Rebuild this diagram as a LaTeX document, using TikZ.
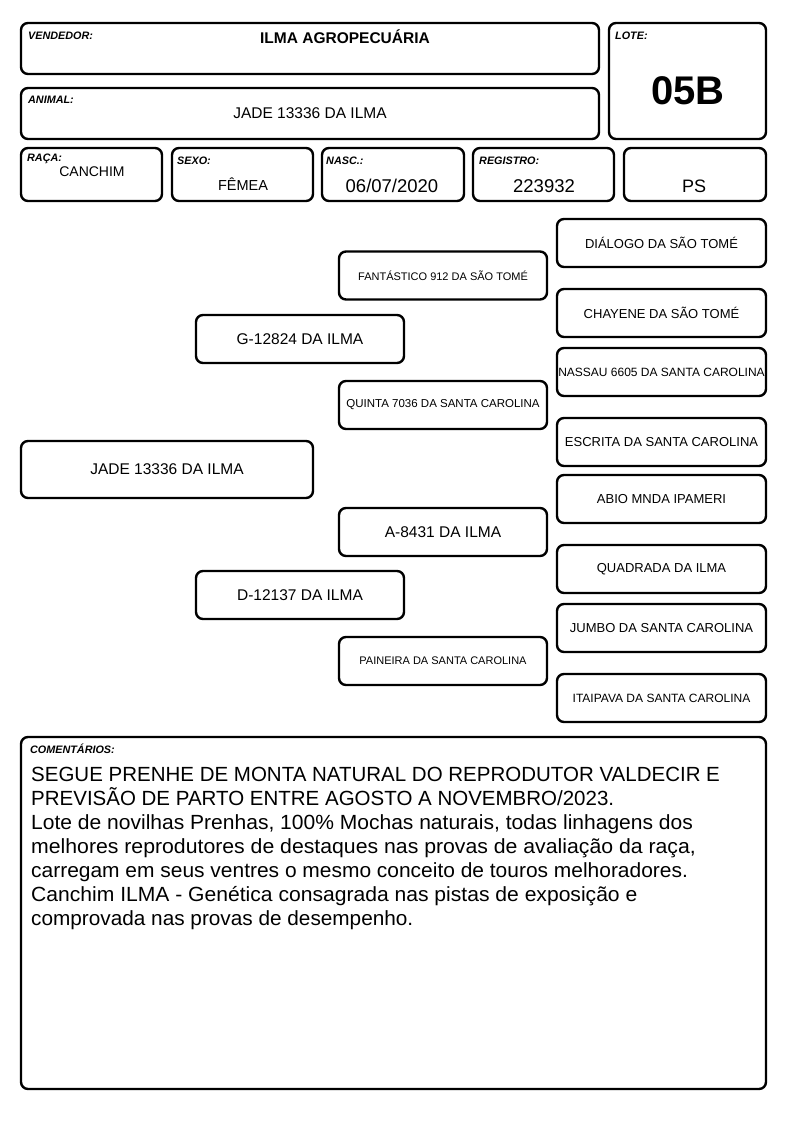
\documentclass[tikz,border=0pt]{standalone}
\usepackage{graphicx}
\usepackage{fontspec}
\setmainfont{Liberation Sans}
\begin{document}
\begin{tikzpicture}[x=1pt,y=-1pt,
  box/.style={draw, line width=2.4pt, rounded corners=7pt, inner sep=0pt},
  lab/.style={font=\fontsize{10.8}{12}\selectfont\bfseries\itshape, anchor=west, inner sep=0pt},
  txt/.style={inner sep=0pt},
  big/.style={font=\fontsize{15.5}{18}\selectfont},
  mid/.style={font=\fontsize{13}{15}\selectfont},
  sml/.style={font=\fontsize{11.5}{13}\selectfont},
  ped/.style={box, minimum width=208, minimum height=48},
  rt/.style={box, minimum width=209, minimum height=48}]
\useasboundingbox (0,0) rectangle (794,1123);
% header
\node[box, minimum width=578, minimum height=51] (vend) at (310,48.5) {};
\node[lab] (vendl) at (28,35.5) {VENDEDOR:};
\node[txt, font=\fontsize{15.5}{18}\selectfont\bfseries] (vendt) at (345,37) {ILMA AGROPECUÁRIA};
\node[box, minimum width=578, minimum height=51] (anim) at (310,113.5) {};
\node[lab] (animl) at (28,99.5) {ANIMAL:};
\node[txt, big] (animt) at (310,113) {JADE 13336 DA ILMA};
\node[box, minimum width=157, minimum height=116] (lote) at (687.5,81) {};
\node[lab] (lotel) at (615,35.5) {LOTE:};
\node[txt, font=\fontsize{40}{44}\selectfont\bfseries] (lotet) at (688,91) {05B};
% row
\node[box, minimum width=141, minimum height=53] (raca) at (91.5,174.5) {};
\node[lab] (racal) at (27,158.5) {RAÇA:};
\node[txt, font=\fontsize{14}{16}\selectfont] (racat) at (92,172) {CANCHIM};
\node[box, minimum width=141, minimum height=53] (sexo) at (242.5,174.5) {};
\node[lab] (sexol) at (177,160.5) {SEXO:};
\node[txt, font=\fontsize{14.5}{16}\selectfont] (sexot) at (243,184) {FÊMEA};
\node[box, minimum width=142, minimum height=53] (nasc) at (393,174.5) {};
\node[lab] (nascl) at (326,160.5) {NASC.:};
\node[txt, font=\fontsize{18.5}{20}\selectfont] (nasct) at (392,186) {06/07/2020};
\node[box, minimum width=141, minimum height=53] (reg) at (543.5,174.5) {};
\node[lab] (regl) at (479,160.5) {REGISTRO:};
\node[txt, font=\fontsize{18.5}{20}\selectfont] (regt) at (544,186) {223932};
\node[box, minimum width=142, minimum height=53] (ps) at (695,174.5) {};
\node[txt, font=\fontsize{18}{20}\selectfont] (pst) at (694,186) {PS};
% pedigree
\node[box, big, minimum width=292, minimum height=57] (jade) at (167,469.5) {JADE 13336 DA ILMA};
\node[ped, big] (g) at (300,339) {G-12824 DA ILMA};
\node[ped, big] (d) at (300,595) {D-12137 DA ILMA};
\node[ped, font=\fontsize{11}{13}\selectfont] (fan) at (443,275.5) {FANTÁSTICO 912 DA SÃO TOMÉ};
\node[ped, sml] (qui) at (443,405) {QUINTA 7036 DA SANTA CAROLINA};
\node[ped, big] (a) at (443,532) {A-8431 DA ILMA};
\node[ped, font=\fontsize{11}{13}\selectfont] (pai) at (443,661) {PAINEIRA DA SANTA CAROLINA};
\node[rt, mid] (dia) at (661.5,243) {DIÁLOGO DA SÃO TOMÉ};
\node[rt, mid] (cha) at (661.5,313) {CHAYENE DA SÃO TOMÉ};
\node[rt, font=\fontsize{12}{14}\selectfont] (nas) at (661.5,372) {NASSAU 6605 DA SANTA CAROLINA};
\node[rt, mid] (esc) at (661.5,442) {ESCRITA DA SANTA CAROLINA};
\node[rt, mid] (abi) at (661.5,499) {ABIO MNDA IPAMERI};
\node[rt, mid] (qua) at (661.5,569) {QUADRADA DA ILMA};
\node[rt, mid] (jum) at (661.5,628) {JUMBO DA SANTA CAROLINA};
\node[rt, font=\fontsize{12}{14}\selectfont] (ita) at (661.5,698) {ITAIPAVA DA SANTA CAROLINA};
% comments
\node[box, minimum width=745, minimum height=352] (com) at (393.5,913) {};
\node[lab] (coml) at (30,749) {COMENTÁRIOS:};
\node[txt, anchor=north west, align=left, font=\fontsize{20.5}{24}\selectfont] (comt) at (31,766.5) {SEGUE PRENHE DE MONTA NATURAL DO REPRODUTOR VALDECIR E\\
PREVISÃO DE PARTO ENTRE AGOSTO A NOVEMBRO/2023.\\
\scalebox{1.026}[1]{Lote de novilhas Prenhas, 100\% Mochas naturais, todas linhagens dos}\\
\scalebox{1.036}[1]{melhores reprodutores de destaques nas provas de avaliação da raça,}\\
\scalebox{1.022}[1]{carregam em seus ventres o mesmo conceito de touros melhoradores.}\\
\scalebox{1.029}[1]{Canchim ILMA - Genética consagrada nas pistas de exposição e}\\
\scalebox{1.013}[1]{comprovada nas provas de desempenho.}};
\end{tikzpicture}
\end{document}
